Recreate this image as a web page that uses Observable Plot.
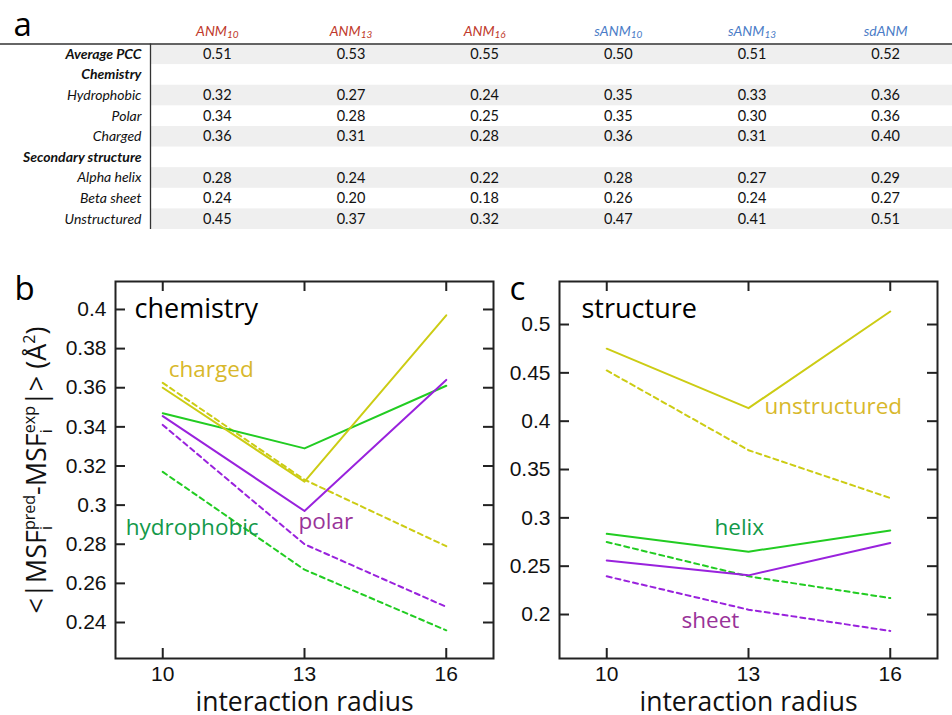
<!DOCTYPE html>
<html><head><meta charset="utf-8">
<script src="https://cdn.jsdelivr.net/npm/d3@7"></script>
<script src="https://cdn.jsdelivr.net/npm/@observablehq/plot@0.6"></script>
<style>
body{margin:0;background:#fff;}
#root{position:relative;width:952px;height:715px;overflow:hidden;background:#fff;}
#root > svg{position:absolute;overflow:visible;}
</style></head><body><div id="root"></div>
<script>
// ---------- panel a: table ----------
const models = ["ANM10","ANM13","ANM16","sANM10","sANM13","sdANM"];
const modelFamily = ["ANM","ANM","ANM","sANM","sANM","sANM"];
const rowLabels = ["Average PCC","Chemistry","Hydrophobic","Polar","Charged","Secondary structure","Alpha helix","Beta sheet","Unstructured"];
const rowIsHeader = [true,true,false,false,false,true,false,false,false];
const averagePCC      = [0.51,0.53,0.55,0.50,0.51,0.52];
const hydrophobicPCC  = [0.32,0.27,0.24,0.35,0.33,0.36];
const polarPCC        = [0.34,0.28,0.25,0.35,0.30,0.36];
const chargedPCC      = [0.36,0.31,0.28,0.36,0.31,0.40];
const helixPCC        = [0.28,0.24,0.22,0.28,0.27,0.29];
const sheetPCC        = [0.24,0.20,0.18,0.26,0.24,0.27];
const unstructuredPCC = [0.45,0.37,0.32,0.47,0.41,0.51];
const rowValues = [averagePCC,null,hydrophobicPCC,polarPCC,chargedPCC,null,helixPCC,sheetPCC,unstructuredPCC];

// ---------- panels b, c ----------
const radii = [10,13,16];
const hydrophobicSolid  = [0.347,0.329,0.361];
const hydrophobicDashed = [0.317,0.267,0.236];
const polarSolid        = [0.3455,0.297,0.364];
const polarDashed       = [0.341,0.280,0.248];
const chargedSolid      = [0.360,0.312,0.397];
const chargedDashed     = [0.3625,0.313,0.279];
const helixSolid        = [0.2835,0.265,0.287];
const helixDashed       = [0.275,0.2395,0.217];
const sheetSolid        = [0.256,0.2405,0.274];
const sheetDashed       = [0.2395,0.205,0.183];
const unstructuredSolid = [0.475,0.4135,0.5135];
const unstructuredDashed= [0.4525,0.370,0.3205];
const yTicksB = [0.24,0.26,0.28,0.3,0.32,0.34,0.36,0.38,0.4];
const yTicksC = [0.2,0.25,0.3,0.35,0.4,0.45,0.5];
const yDomainB = [0.2216,0.4143];
const yDomainC = [0.1545,0.5445];
const xDomain = [9,17];

const C = {yellow:"#cccc14", green:"#22cc22", purple:"#9922dd",
           yellowText:"#d8b82c", greenText:"#13994a", purpleText:"#993399",
           red:"#c0392b", blue:"#4a7cc7"};
const SANS = "'Open Sans', sans-serif";
const HELV = "'Liberation Sans', Arial, sans-serif";
const root = document.getElementById("root");

// ----- table -----
const cells = [];
rowValues.forEach((vals,i)=>{ if (vals) vals.forEach((v,j)=>cells.push({row:i,col:j,v})); });
const rows = rowLabels.map((label,i)=>({row:i,label,header:rowIsHeader[i]}));
const cols = models.map((m,j)=>({col:j,name:m,fam:modelFamily[j]}));
const colDom = [-0.5, models.length-0.5];
const rowDom = [-0.5, rowLabels.length-0.5];

const table = Plot.plot({
  width:952, height:235, marginLeft:0, marginRight:0, marginTop:43.5, marginBottom:6,
  x:{domain:colDom, range:[150,952], axis:null},
  y:{domain:rowDom, range:[43.5,229], axis:null},
  style:{fontFamily:"Lato, sans-serif", background:"transparent"},
  marks:[
    Plot.rect(rows.filter(r=>r.row%2===0), {x1:()=>colDom[0], x2:()=>colDom[1], y1:d=>d.row-0.5, y2:d=>d.row+0.5, fill:"#efefef"}),
    Plot.ruleY([rowDom[0]], {stroke:"#333", strokeWidth:1.3}),
    Plot.ruleX([colDom[0]], {y1:()=>rowDom[0], y2:()=>rowDom[1], stroke:"#333", strokeWidth:1.3}),
    Plot.text(rows.filter(r=>r.header), {y:"row", text:"label", frameAnchor:"left", dx:141, textAnchor:"end", fontStyle:"italic", fontWeight:"bold", fontSize:14, fill:"#111"}),
    Plot.text(rows.filter(r=>!r.header), {y:"row", text:"label", frameAnchor:"left", dx:141, textAnchor:"end", fontStyle:"italic", fontSize:14, fill:"#111"}),
    Plot.text(cells, {x:"col", y:"row", text:d=>d.v.toFixed(2), fontSize:14.5, fill:"#111"}),
    Plot.text(cols, {x:"col", text:"name", frameAnchor:"top", dy:-8.5, lineAnchor:"bottom", fontStyle:"italic", fontSize:14, fill:d=>d.fam==="ANM"?C.red:C.blue}),
    Plot.text(["a"], {frameAnchor:"top-left", dx:13, dy:-8.5, lineAnchor:"bottom", textAnchor:"start", fontSize:33, fontFamily:SANS, fill:"#000"})
  ]
});
// subscripts in header
d3.select(table).selectAll("text").each(function(){
  const t = this.textContent, m = /^(s?d?ANM)(\d+)$/.exec(t);
  if (m) {
    const s = d3.select(this); s.text(m[1]);
    s.append("tspan").attr("dy","0.28em").attr("font-size","10px").text(m[2]);
  }
});
table.style.left="0px"; table.style.top="0px";
root.appendChild(table);

// ----- line panels -----
function panel({width, marginLeft, marginRight, yDomain, yTicks, series, labels, letter, letterDx, title, titleDx, yLabel}) {
  const height=465, marginTop=31, marginBottom=57;
  const fw = width-marginLeft-marginRight, fh = height-marginTop-marginBottom, tk = 10;
  const ink = "#222";
  const marks = [
    Plot.frame({stroke:ink, strokeWidth:2}),
    Plot.tickY(yTicks, {y:d=>d, insetRight:fw-tk, stroke:ink, strokeWidth:2}),
    Plot.tickY(yTicks, {y:d=>d, insetLeft:fw-tk, stroke:ink, strokeWidth:2}),
    Plot.tickX(radii, {x:d=>d, insetBottom:fh-tk, stroke:ink, strokeWidth:2}),
    Plot.tickX(radii, {x:d=>d, insetTop:fh-tk, stroke:ink, strokeWidth:2}),
    Plot.axisY(yTicks, {tickSize:0, tickPadding:9, fontSize:21, fontFamily:HELV, fill:"#111", tickFormat:d=>String(d), label:null}),
    Plot.axisX(radii, {tickSize:0, tickPadding:8, fontSize:21, fontFamily:HELV, fill:"#111", tickFormat:d=>String(d), label:null}),
    Plot.text(["interaction radius"], {frameAnchor:"bottom", dy:52, lineAnchor:"bottom", fontSize:26.5, fontFamily:SANS, fill:"#111"}),
    Plot.text([title], {frameAnchor:"top-left", dx:titleDx, dy:36, lineAnchor:"bottom", textAnchor:"start", fontSize:27, fontFamily:SANS, fill:"#000"}),
    Plot.text([letter], {frameAnchor:"top-left", dx:letterDx, dy:18, lineAnchor:"bottom", textAnchor:"start", fontSize:33, fontFamily:SANS, fill:"#000"})
  ];
  for (const s of series) {
    marks.push(Plot.line(radii.map((r,i)=>({r, v:s.values[i]})), {x:"r", y:"v", stroke:s.color, strokeWidth:2, strokeDasharray:s.dashed?"5,4":undefined}));
  }
  for (const l of labels) {
    marks.push(Plot.text([{r:radii[l.at], v:l.values[l.at]}], {x:"r", y:"v", text:()=>l.text, dx:l.dx, dy:l.dy, textAnchor:"start", fontSize:22.5, fontFamily:SANS, fill:l.color}));
  }
  if (yLabel) {
    marks.push(Plot.text([yLabel], {frameAnchor:"left", dx:-70, rotate:-90, textAnchor:"middle", lineAnchor:"bottom", fontSize:26, fontFamily:SANS, fill:"#111"}));
  }
  const svg = Plot.plot({width, height, marginLeft, marginRight, marginTop, marginBottom,
    x:{domain:xDomain}, y:{domain:yDomain},
    style:{background:"transparent", overflow:"visible", fontFamily:HELV, fontSize:"21px"}, marks});
  return svg;
}

const YLABEL = "<|MSFipred-MSFiexp|> (Å2)";
const svgB = panel({
  width:510, marginLeft:115, marginRight:17, yDomain:yDomainB, yTicks:yTicksB,
  letter:"b", letterDx:-101, title:"chemistry", titleDx:19, yLabel:YLABEL,
  series:[
    {values:hydrophobicDashed, color:C.green, dashed:true},
    {values:polarDashed, color:C.purple, dashed:true},
    {values:chargedDashed, color:C.yellow, dashed:true},
    {values:hydrophobicSolid, color:C.green},
    {values:polarSolid, color:C.purple},
    {values:chargedSolid, color:C.yellow}
  ],
  labels:[
    {text:"charged", values:chargedDashed, at:0, dx:6, dy:-13, color:C.yellowText},
    {text:"hydrophobic", values:hydrophobicDashed, at:0, dx:-37, dy:56, color:C.greenText},
    {text:"polar", values:polarSolid, at:1, dx:-6, dy:11, color:C.purpleText}
  ]
});
// rich y label with stacked sub/superscripts
d3.select(svgB).selectAll("text").each(function(){
  if (this.textContent !== YLABEL) return;
  const t = d3.select(this); t.text("");
  const big = 27, small = 16, sh = 6, up = 11;
  const parts = [
    ["<|MSF", big, 0, 0], ["i", small, 0, sh], ["pred", small, -4, -sh-up],
    ["-MSF", big, 0, up], ["i", small, 0, sh], ["exp", small, -4, -sh-up],
    ["|> (Å", big, 0, up], ["2", small, 0, -up], [")", big, 0, up]
  ];
  for (const [s, fs, dx, dy] of parts) {
    const sp = t.append("tspan").attr("font-size", fs+"px").text(s);
    if (dx) sp.attr("dx", dx); if (dy) sp.attr("dy", dy);
  }
});
svgB.style.left="0px"; svgB.style.top="250px";
root.appendChild(svgB);

const svgC = panel({
  width:442, marginLeft:49, marginRight:15, yDomain:yDomainC, yTicks:yTicksC,
  letter:"c", letterDx:-50, title:"structure", titleDx:22,
  series:[
    {values:helixDashed, color:C.green, dashed:true},
    {values:sheetDashed, color:C.purple, dashed:true},
    {values:unstructuredDashed, color:C.yellow, dashed:true},
    {values:helixSolid, color:C.green},
    {values:sheetSolid, color:C.purple},
    {values:unstructuredSolid, color:C.yellow}
  ],
  labels:[
    {text:"unstructured", values:unstructuredSolid, at:1, dx:16, dy:-1, color:C.yellowText},
    {text:"helix", values:helixSolid, at:1, dx:-34, dy:-24, color:C.greenText},
    {text:"sheet", values:sheetDashed, at:1, dx:-67, dy:11, color:C.purpleText}
  ]
});
svgC.style.left="510px"; svgC.style.top="250px";
root.appendChild(svgC);
</script></body></html>
